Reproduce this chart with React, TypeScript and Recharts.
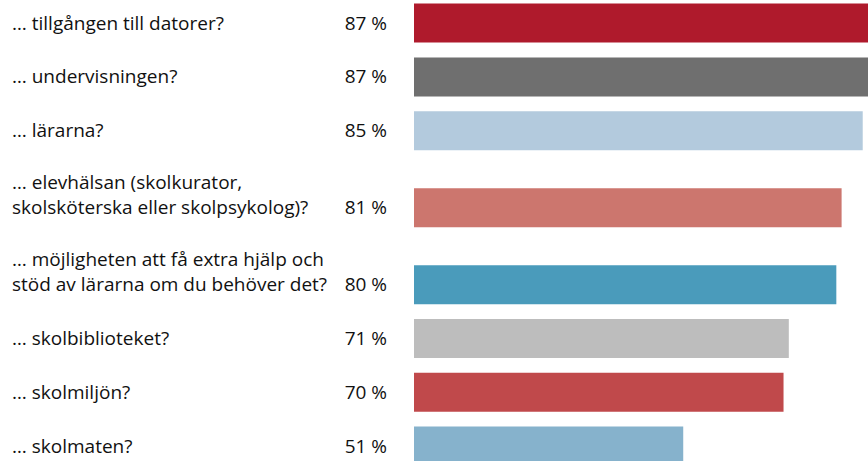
import React from 'react';
import { BarChart, Bar, XAxis, YAxis, Cell } from 'recharts';

const categories = [
  '… tillgången till datorer?',
  '… undervisningen?',
  '… lärarna?',
  '… elevhälsan (skolkurator,\nskolsköterska eller skolpsykolog)?',
  '… möjligheten att få extra hjälp och\nstöd av lärarna om du behöver det?',
  '… skolbiblioteket?',
  '… skolmiljön?',
  '… skolmaten?',
];
const values = [87, 87, 85, 81, 80, 71, 70, 51];
const valueLabels = ['87 %', '87 %', '85 %', '81 %', '80 %', '71 %', '70 %', '51 %'];
const colors = ['#AF1A2C', '#6F6F6F', '#B3CADD', '#CC766E', '#4A9BBB', '#BDBDBD', '#C0494B', '#86B2CC'];

const W = 868;
const H = 461;
const ROW = 53.8;
const EXTRA_LINE = 23.2;
const LINE_H = 24.8;
const FONT = '"Open Sans", Lato, sans-serif';
const FS = 19;

// layout: each row steps down by one row height plus extra space for extra label lines
const positions: number[] = [];
categories.forEach((c, i) => {
  const lines = c.split('\n').length;
  positions.push(i === 0 ? 0 : positions[i - 1] + ROW + EXTRA_LINE * (lines - 1));
});

const data = categories.map((c, i) => ({ name: c, value: values[i], pos: positions[i] }));

const Tick = (props: any) => {
  const { y, payload } = props;
  const idx = positions.indexOf(payload.value);
  if (idx < 0) return null;
  const lines = categories[idx].split('\n');
  const base = y + 6;
  return (
    <g>
      {lines.map((ln, k) => (
        <text
          key={k}
          x={12}
          y={base - (lines.length - 1 - k) * LINE_H}
          fontFamily={FONT}
          fontSize={FS}
          fill="#111"
          textAnchor="start"
        >
          {ln}
        </text>
      ))}
      <text x={387} y={base} fontFamily={FONT} fontSize={FS} fill="#111" textAnchor="end">
        {valueLabels[idx]}
      </text>
    </g>
  );
};

export default function App() {
  return (
    <div style={{ position: 'absolute', left: 0, top: 0, width: W, height: H, background: '#fff' }}>
      <BarChart
        width={W}
        height={H}
        data={data}
        layout="vertical"
        margin={{ top: 0, right: 0, bottom: 0, left: 0 }}
      >
        <XAxis type="number" domain={[0, 86]} allowDataOverflow hide />
        <YAxis
          type="number"
          dataKey="pos"
          domain={[-23.5, 437.5]}
          allowDataOverflow
          ticks={positions}
          interval={0}
          width={414}
          axisLine={false}
          tickLine={false}
          tick={<Tick />}
        />
        <Bar dataKey="value" barSize={39} isAnimationActive={false}>
          {data.map((d, i) => (
            <Cell key={i} fill={colors[i]} />
          ))}
        </Bar>
      </BarChart>
    </div>
  );
}
